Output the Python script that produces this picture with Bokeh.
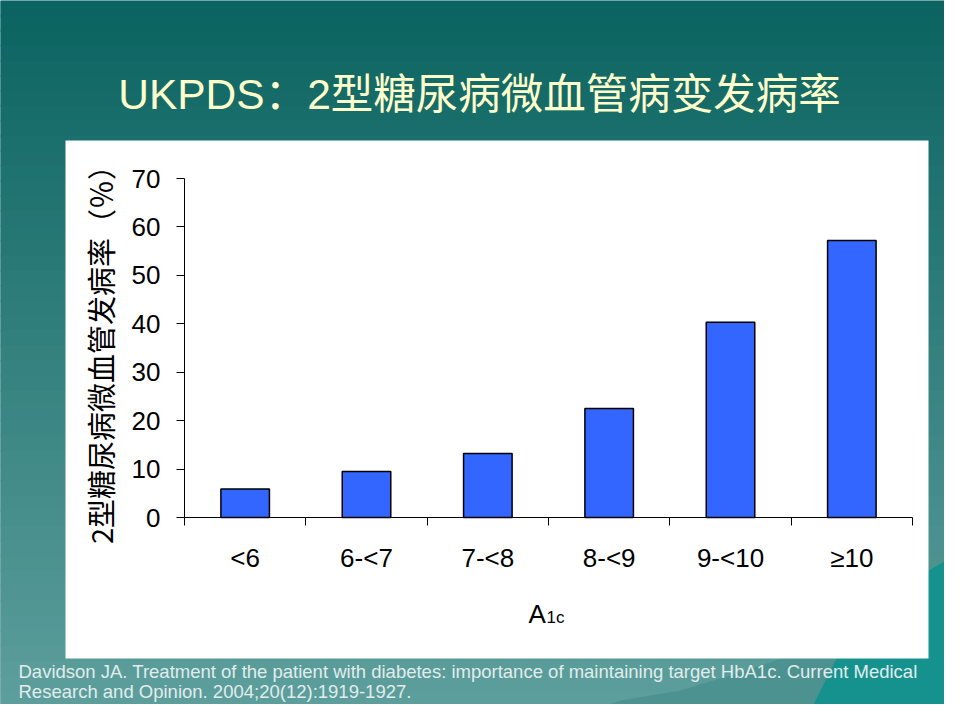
import math
from bokeh.plotting import figure
from bokeh.models import (Range1d, FixedTicker, BoxAnnotation, Label, PolyAnnotation,
                          ColumnDataSource)
from bokeh.embed import file_html
from bokeh.resources import INLINE

# ---------------- data ----------------
categories = ["<6", "6-<7", "7-<8", "8-<9", "9-<10", "≥10"]
values = [5.9, 9.5, 13.2, 22.5, 40.3, 57.2]
y_ticks = [0, 10, 20, 30, 40, 50, 60, 70]

title_text = "UKPDS：2型糖尿病微血管病变发病率"
y_label_text = "2型糖尿病微血管发病率（％）"
x_label_main = "A"
x_label_sub = "1c"
footer_lines = [
    "Davidson JA. Treatment of the patient with diabetes: importance of maintaining target HbA1c. Current Medical",
    "Research and Opinion. 2004;20(12):1919-1927.",
]

# category slots on a numeric axis: centre of slot i is i + 0.5
centers = [i + 0.5 for i in range(len(categories))]
bounds = list(range(len(categories) + 1))
src = ColumnDataSource(dict(x=centers, top=values, cat=categories))

# ---------------- layout ----------------
W, H = 944, 704
AX_L, AX_R, AX_T, AX_B = 184, 912, 178, 517   # plot area in page pixels
YMAX = 70
SW = (AX_R - AX_L) / len(categories)          # px per category slot
UH = (AX_B - AX_T) / YMAX                     # px per value unit
x0, x1 = -AX_L / SW, (W - AX_L) / SW
y0, y1 = -(H - AX_B) / UH, AX_B / UH

LAT = "Liberation Sans, Noto Sans CJK SC"
CJK = "Noto Sans CJK SC"


def dx(X):  # page pixel -> data x
    return x0 + X / SW


def dy(Y):  # page pixel -> data y
    return y1 - Y / UH


p = figure(width=W, height=H, x_range=Range1d(x0, x1), y_range=Range1d(y0, y1),
           output_backend="svg", toolbar_location=None, min_border=0)
p.outline_line_color = None
p.xgrid.visible = False
p.ygrid.visible = False
p.background_fill_color = "#2e807e"
p.border_fill_color = "#2e807e"

# background gradient bands
top_rgb = (10, 99, 96)
bot_rgb = (95, 160, 158)
N = 48
for i in range(N):
    t = (i + 0.5) / N
    c = tuple(int(round(a + (b - a) * t)) for a, b in zip(top_rgb, bot_rgb))
    ya0 = i * 720 / N
    ya1 = (i + 1) * 720 / N + 1
    p.add_layout(BoxAnnotation(left=dx(-2), right=dx(962), top=dy(ya0), bottom=dy(ya1),
                               fill_color="#%02x%02x%02x" % c, fill_alpha=1,
                               line_color=None, level="underlay"))

# mountains bottom right
ridge_x = [560, 620, 680, 740, 790, 830, 850, 800]
ridge_y = [720, 700, 690, 672, 655, 640, 660, 720]
p.add_layout(PolyAnnotation(xs=[dx(v) for v in ridge_x], ys=[dy(v) for v in ridge_y],
                            fill_color="#4c9290", fill_alpha=1, line_color=None,
                            level="underlay"))
mx = [805, 840, 870, 900, 925, 945, 960, 960]
my = [720, 650, 622, 598, 572, 560, 566, 720]
p.add_layout(PolyAnnotation(xs=[dx(v) for v in mx], ys=[dy(v) for v in my],
                            fill_color="#16928e", fill_alpha=1, line_color=None,
                            level="underlay"))

# white panel
p.add_layout(BoxAnnotation(left=dx(65), right=dx(928), top=dy(140), bottom=dy(658),
                           fill_color="white", fill_alpha=1, line_color=None,
                           level="underlay"))

# bars
p.vbar(x="x", top="top", width=0.4, bottom=0, source=src,
       fill_color="#3366ff", line_color="black", line_width=1.5)

# y axis (placed inside the frame at x = 0)
ya = p.yaxis[0]
ya.fixed_location = 0
ya.bounds = (0, YMAX)
ya.ticker = FixedTicker(ticks=y_ticks, minor_ticks=[])
ya.axis_line_color = "black"
ya.major_tick_line_color = "black"
ya.major_tick_out = 8
ya.major_tick_in = 0
ya.minor_tick_out = 0
ya.minor_tick_in = 0
ya.major_label_text_font = LAT
ya.major_label_text_font_size = "26px"
ya.major_label_text_color = "black"
ya.major_label_standoff = 16

# x axis: labels at slot centres, ticks (minor) at slot boundaries
xa = p.xaxis[0]
xa.fixed_location = 0
xa.bounds = (0, len(categories))
xa.ticker = FixedTicker(ticks=centers, minor_ticks=bounds)
overrides = {}
for c_, lab in zip(centers, categories):
    overrides[c_] = lab
    overrides[str(c_)] = lab
xa.major_label_overrides = overrides
xa.axis_line_color = "black"
xa.major_tick_line_color = None
xa.major_tick_out = 0
xa.major_tick_in = 0
xa.minor_tick_line_color = "black"
xa.minor_tick_out = 8
xa.minor_tick_in = 0
xa.major_label_text_font = LAT
xa.major_label_text_font_size = "26px"
xa.major_label_text_color = "black"
xa.major_label_standoff = 17

# y axis label (rotated)
p.add_layout(Label(x=dx(99), y=dy(347), angle=math.pi / 2, text=y_label_text,
                   text_font=CJK, text_font_size="29px", text_color="black",
                   text_align="center", text_baseline="middle"))

# x axis label A1c
p.add_layout(Label(x=dx(528), y=dy(613), text=x_label_main, text_font=LAT,
                   text_font_size="26px", text_color="black", text_align="left",
                   text_baseline="alphabetic"))
p.add_layout(Label(x=dx(546), y=dy(617), text=x_label_sub, text_font=LAT,
                   text_font_size="17px", text_color="black", text_align="left",
                   text_baseline="alphabetic"))

# title
p.add_layout(Label(x=dx(479), y=dy(94), text=title_text, text_font=LAT,
                   text_font_size="42.5px", text_color="#ffffcc", text_align="center",
                   text_baseline="middle"))

# footer
for k, line in enumerate(footer_lines):
    p.add_layout(Label(x=dx(18), y=dy(671 + 20 * k), text=line, text_font=LAT,
                       text_font_size="18.5px", text_color="#e2ecec", text_align="left",
                       text_baseline="alphabetic"))

open("out.html", "w").write(file_html(p, INLINE))
